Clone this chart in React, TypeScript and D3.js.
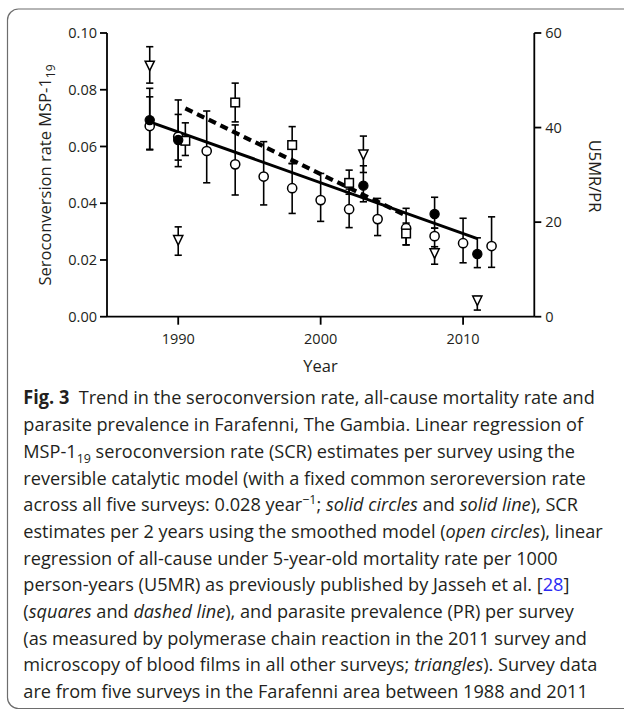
import React, { useLayoutEffect, useRef, useState } from "react";
import * as d3 from "d3";

// ---- data ----
const surveyYears = [1988, 1990, 2003, 2008, 2011];
const scrSurvey = [0.0693, 0.0623, 0.0462, 0.0362, 0.0221];
const scrSurveyLo = [0.0588, 0.0552, 0.0405, 0.0312, 0.0173];
const scrSurveyHi = [0.0775, 0.0713, 0.0532, 0.0421, 0.0278];

const smoothYears = [1988, 1990, 1992, 1994, 1996, 1998, 2000, 2002, 2004, 2006, 2008, 2010, 2012];
const scrSmooth = [0.0672, 0.0634, 0.0584, 0.0537, 0.0494, 0.0453, 0.0411, 0.0379, 0.0344, 0.0312, 0.0284, 0.0259, 0.0249];
const scrSmoothLo = [0.059, 0.0529, 0.0472, 0.0429, 0.0394, 0.0364, 0.0336, 0.0314, 0.0286, 0.0253, 0.0235, 0.019, 0.0174];
const scrSmoothHi = [0.0805, 0.0764, 0.0725, 0.0676, 0.0617, 0.054, 0.0505, 0.045, 0.0417, 0.0382, 0.0312, 0.0347, 0.0352];

const u5mrYears = [1990.5, 1994, 1998, 2002, 2006];
const u5mr = [37.2, 45.3, 36.3, 28.3, 17.6];
const u5mrLo = [34.1, 41.2, 32.4, 25.9, 15.2];
const u5mrHi = [41.0, 49.4, 40.2, 31.0, 19.8];

const prYears = [1988, 1990, 2003, 2008, 2011];
const pr = [53.1, 16.2, 34.3, 13.4, 3.4];
const prLo = [49.4, 13.0, 30.5, 11.1, 1.4];
const prHi = [57.1, 19.0, 38.2, 14.8, 4.3];

const leftTicks = [0, 0.02, 0.04, 0.06, 0.08, 0.1];
const rightTicks = [0, 20, 40, 60];
const xTicks = [1990, 2000, 2010];

const FONT = "'Open Sans', 'Noto Sans', sans-serif";
const INK = "#231f20";

function regress(xs: number[], ys: number[]) {
  const mx = d3.mean(xs) as number;
  const my = d3.mean(ys) as number;
  let sxy = 0, sxx = 0;
  xs.forEach((x, i) => { sxy += (x - mx) * (ys[i] - my); sxx += (x - mx) * (x - mx); });
  const b = sxy / sxx;
  return (x: number) => my + b * (x - mx);
}

export default function App() {
  const x = d3.scaleLinear().domain([1985, 2015]).range([107, 534.3]);
  const yL = d3.scaleLinear().domain([0, 0.1]).range([316.7, 33]);
  const yR = d3.scaleLinear().domain([0, 60]).range([316.7, 33]);

  const capRef = useRef<SVGTextElement>(null);
  const [sx, setSx] = useState(1);
  useLayoutEffect(() => {
    if (capRef.current) {
      const len = capRef.current.getComputedTextLength();
      if (len > 0) setSx(572 / len);
    }
  }, []);

  const fitS = regress(surveyYears, scrSurvey);
  const fitU = regress(u5mrYears, u5mr);
  const solidLine = d3.line<number>().x((d) => x(d)).y((d) => yL(fitS(d)));
  const dashLine = d3.line<number>().x((d) => x(d)).y((d) => yR(fitU(d)));

  const cap = 3.6;
  const errBar = (key: string, xv: number, lo: number, hi: number) => (
    <g key={key} stroke="#000" strokeWidth={1.6}>
      <line x1={xv} x2={xv} y1={lo} y2={hi} />
      <line x1={xv - cap} x2={xv + cap} y1={lo} y2={lo} />
      <line x1={xv - cap} x2={xv + cap} y1={hi} y2={hi} />
    </g>
  );

  const tri = (cx: number, cy: number) => {
    const w = 4.6;
    return `M${cx - w},${cy - 4.5}L${cx + w},${cy - 4.5}L${cx},${cy + 5}Z`;
  };

  const lh = 26.7;
  const base = 404.5;

  return (
    <svg width={624} height={710} style={{ position: "absolute", left: 0, top: 0 }} fontFamily={FONT}>
      <rect x={7.5} y={9} width={650} height={699.5} rx={11} fill="#fff" stroke="#6d6d6d" strokeWidth={1.2} />

      {/* axes */}
      <g stroke="#000" strokeWidth={1.8} fill="none">
        <line x1={x(1985)} x2={x(1985)} y1={yL(0)} y2={yL(0.1)} />
        <line x1={x(2015)} x2={x(2015)} y1={yR(0)} y2={yR(60)} />
        <line x1={x(1985)} x2={x(2015)} y1={yL(0)} y2={yL(0)} />
        {leftTicks.map((t) => <line key={"lt" + t} x1={x(1985) - 7} x2={x(1985)} y1={yL(t)} y2={yL(t)} />)}
        {rightTicks.map((t) => <line key={"rt" + t} x1={x(2015)} x2={x(2015) + 7} y1={yR(t)} y2={yR(t)} />)}
        {xTicks.map((t) => <line key={"xt" + t} x1={x(t)} x2={x(t)} y1={yL(0)} y2={yL(0) + 8} />)}
      </g>
      <g fontSize={14.5} fill={INK}>
        {leftTicks.map((t) => (
          <text key={"ll" + t} x={x(1985) - 10} y={yL(t)} dy="0.36em" textAnchor="end">{t.toFixed(2)}</text>
        ))}
        {rightTicks.map((t) => (
          <text key={"rl" + t} x={x(2015) + 11} y={yR(t)} dy="0.36em">{t}</text>
        ))}
        {xTicks.map((t) => (
          <text key={"xl" + t} x={x(t)} y={344} textAnchor="middle">{t}</text>
        ))}
      </g>
      <text fontSize={16.5} fill={INK} transform={`translate(51,175) rotate(-90)`} textAnchor="middle">
        Seroconversion rate MSP-1<tspan fontSize={12} baselineShift="-4">19</tspan>
      </text>
      <text fontSize={16.5} fill={INK} transform={`translate(589,176) rotate(90)`} textAnchor="middle">U5MR/PR</text>
      <text fontSize={16.5} fill={INK} x={320.5} y={372} textAnchor="middle">Year</text>

      {/* error bars */}
      {smoothYears.map((yr, i) => errBar("sb" + i, x(yr), yL(scrSmoothLo[i]), yL(scrSmoothHi[i])))}
      {u5mrYears.map((yr, i) => errBar("ub" + i, x(yr), yR(u5mrLo[i]), yR(u5mrHi[i])))}
      {prYears.map((yr, i) => errBar("pb" + i, x(yr), yR(prLo[i]), yR(prHi[i])))}
      {surveyYears.map((yr, i) => errBar("vb" + i, x(yr), yL(scrSurveyLo[i]), yL(scrSurveyHi[i])))}

      {/* regression lines */}
      <path d={solidLine([surveyYears[0], surveyYears[surveyYears.length - 1]]) || ""} stroke="#000" strokeWidth={3} fill="none" />
      <path d={dashLine([u5mrYears[0], u5mrYears[u5mrYears.length - 1]]) || ""} stroke="#000" strokeWidth={4.2} strokeDasharray="8,5" fill="none" />

      {/* markers */}
      {smoothYears.map((yr, i) => (
        <circle key={"sm" + i} cx={x(yr)} cy={yL(scrSmooth[i])} r={4.6} fill="#fff" stroke="#000" strokeWidth={1.5} />
      ))}
      {u5mrYears.map((yr, i) => (
        <rect key={"um" + i} x={x(yr) - 4.3} y={yR(u5mr[i]) - 4.3} width={8.6} height={8.6} fill="#fff" stroke="#000" strokeWidth={1.5} />
      ))}
      {prYears.map((yr, i) => (
        <path key={"pm" + i} d={tri(x(yr), yR(pr[i]))} fill="#fff" stroke="#000" strokeWidth={1.5} />
      ))}
      {surveyYears.map((yr, i) => (
        <circle key={"vm" + i} cx={x(yr)} cy={yL(scrSurvey[i])} r={4.6} fill="#000" stroke="#000" strokeWidth={1.2} />
      ))}

      {/* caption */}
      <g transform={`translate(23.3,0) scale(${sx},1)`} fontSize={19} fill={INK}>
        <text ref={capRef} x={0} y={base}>
          <tspan fontWeight="bold">Fig. 3</tspan>{"\u00a0\u00a0Trend in the seroconversion rate, all-cause mortality rate and"}
        </text>
        <text x={0} y={base + lh}>parasite prevalence in Farafenni, The Gambia. Linear regression of</text>
        <text x={0} y={base + 2 * lh}>
          MSP-1<tspan fontSize={13} baselineShift="-5">19</tspan> seroconversion rate (SCR) estimates per survey using the
        </text>
        <text x={0} y={base + 3 * lh}>reversible catalytic model (with a fixed common seroreversion rate</text>
        <text x={0} y={base + 4 * lh}>
          across all five surveys: 0.028 year<tspan fontSize={13} baselineShift="7">−1</tspan>;{" "}
          <tspan fontStyle="italic">solid circles</tspan> and <tspan fontStyle="italic">solid line</tspan>), SCR
        </text>
        <text x={0} y={base + 5 * lh}>
          estimates per 2 years using the smoothed model (<tspan fontStyle="italic">open circles</tspan>), linear
        </text>
        <text x={0} y={base + 6 * lh}>regression of all-cause under 5-year-old mortality rate per 1000</text>
        <text x={0} y={base + 7 * lh}>
          person-years (U5MR) as previously published by Jasseh et al. [<tspan fill="#2b2bf5">28</tspan>]
        </text>
        <text x={0} y={base + 8 * lh}>
          (<tspan fontStyle="italic">squares</tspan> and <tspan fontStyle="italic">dashed line</tspan>), and parasite prevalence (PR) per survey
        </text>
        <text x={0} y={base + 9 * lh}>(as measured by polymerase chain reaction in the 2011 survey and</text>
        <text x={0} y={base + 10 * lh}>
          microscopy of blood films in all other surveys; <tspan fontStyle="italic">triangles</tspan>). Survey data
        </text>
        <text x={0} y={base + 11 * lh}>are from five surveys in the Farafenni area between 1988 and 2011</text>
      </g>
    </svg>
  );
}
